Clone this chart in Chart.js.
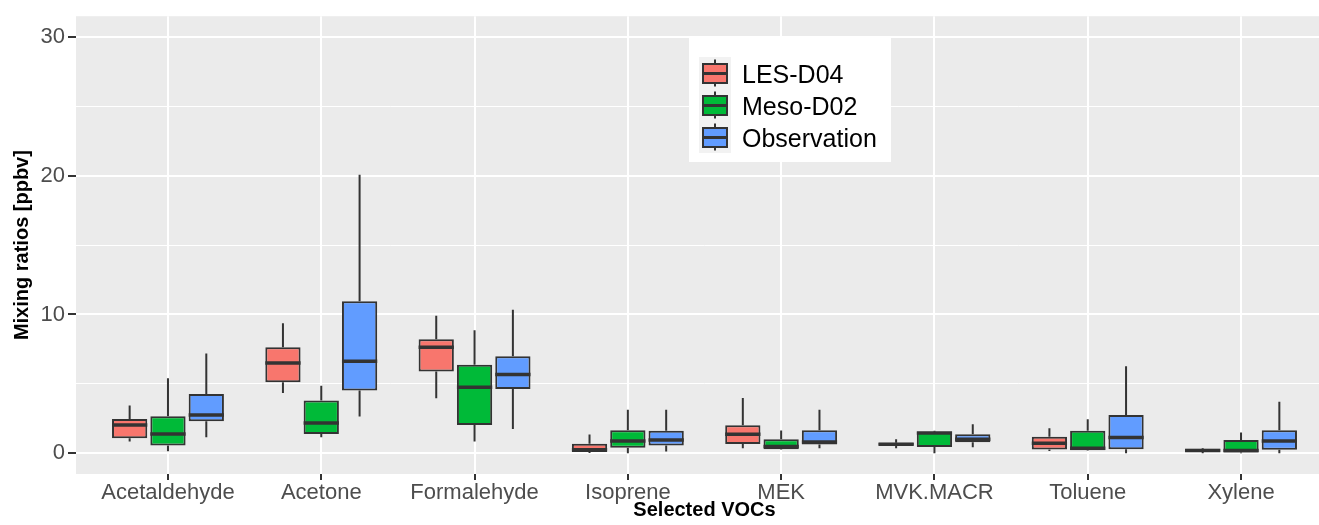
<!DOCTYPE html>
<html>
<head>
<meta charset="utf-8">
<script src="https://cdn.jsdelivr.net/npm/chart.js@4.4.1/dist/chart.umd.min.js"></script>
<style>
  html, body { margin: 0; padding: 0; background: #fff; overflow: hidden; }
  #wrap { width: 1333px; height: 525px; }
</style>
</head>
<body>
<div id="wrap"><canvas id="boxchart" width="1333" height="525"></canvas></div>
<script>
const categories = ["Acetaldehyde", "Acetone", "Formalehyde", "Isoprene", "MEK", "MVK.MACR", "Toluene", "Xylene"];

// each entry: [lower whisker, Q1, median, Q3, upper whisker]
const lesD04 = [
    [0.84, 1.08, 2.04, 2.47, 3.43],
    [4.34, 5.11, 6.50, 7.63, 9.37],
    [3.96, 5.88, 7.63, 8.22, 9.90],
    [0.02, 0.08, 0.25, 0.68, 1.35],
    [0.36, 0.66, 1.36, 2.02, 3.97],
    [0.36, 0.55, 0.65, 0.75, 1.00],
    [0.16, 0.26, 0.71, 1.19, 1.79],
    [0.00, 0.08, 0.20, 0.32, 0.38]
];
const mesoD02 = [
    [0.14, 0.55, 1.39, 2.66, 5.40],
    [1.15, 1.39, 2.18, 3.79, 4.87],
    [0.84, 2.04, 4.75, 6.38, 8.87],
    [0.00, 0.40, 0.88, 1.66, 3.14],
    [0.25, 0.29, 0.48, 1.00, 1.64],
    [0.00, 0.45, 1.45, 1.55, 1.61],
    [0.18, 0.21, 0.36, 1.61, 2.45],
    [0.00, 0.05, 0.20, 0.95, 1.50]
];
const observation = [
    [1.15, 2.30, 2.76, 4.27, 7.19],
    [2.64, 4.51, 6.62, 10.96, 20.07],
    [1.75, 4.63, 5.68, 6.98, 10.34],
    [0.12, 0.55, 0.95, 1.61, 3.14],
    [0.36, 0.62, 0.80, 1.66, 3.14],
    [0.43, 0.79, 1.00, 1.36, 2.09],
    [0.00, 0.29, 1.14, 2.76, 6.26],
    [0.00, 0.24, 0.88, 1.66, 3.70]
];

const seriesNames = ["LES-D04", "Meso-D02", "Observation"];
const seriesColors = ["#F8766D", "#00BA38", "#619CFF"];
const yTicks = [0, 5, 10, 15, 20, 25, 30];

const fontFamily = '"Liberation Sans", Arial, Helvetica, sans-serif';
const lineColor = "#333333";

function makeDataset(name, color, stats) {
    return {
        label: name,
        data: stats.map((s, i) => ({ x: i, y: [s[1], s[3]] })),
        stats: stats,
        backgroundColor: color,
        borderColor: lineColor,
        borderWidth: 2,
        borderSkipped: false,
        categoryPercentage: 0.75,
        barPercentage: 0.92
    };
}

// grey panel behind everything
const panelBackground = {
    id: "panelBackground",
    beforeDraw(chart) {
        const { ctx, chartArea } = chart;
        ctx.save();
        ctx.fillStyle = "#EBEBEB";
        ctx.fillRect(chartArea.left, chartArea.top, chartArea.width, chartArea.height);
        ctx.restore();
    }
};

// whiskers under the boxes, medians on top
const boxParts = {
    id: "boxParts",
    beforeDatasetsDraw(chart) {
        const ctx = chart.ctx;
        const y = chart.scales.y;
        ctx.save();
        ctx.strokeStyle = lineColor;
        ctx.lineWidth = 2;
        chart.data.datasets.forEach((ds, d) => {
            chart.getDatasetMeta(d).data.forEach((bar, i) => {
                const s = ds.stats[i];
                ctx.beginPath();
                ctx.moveTo(bar.x, y.getPixelForValue(s[0]));
                ctx.lineTo(bar.x, y.getPixelForValue(s[1]));
                ctx.moveTo(bar.x, y.getPixelForValue(s[3]));
                ctx.lineTo(bar.x, y.getPixelForValue(s[4]));
                ctx.stroke();
            });
        });
        ctx.restore();
    },
    afterDatasetsDraw(chart) {
        const ctx = chart.ctx;
        const y = chart.scales.y;
        ctx.save();
        ctx.strokeStyle = lineColor;
        ctx.lineWidth = 3.5;
        chart.data.datasets.forEach((ds, d) => {
            chart.getDatasetMeta(d).data.forEach((bar, i) => {
                const py = y.getPixelForValue(ds.stats[i][2]);
                ctx.beginPath();
                ctx.moveTo(bar.x - bar.width / 2, py);
                ctx.lineTo(bar.x + bar.width / 2, py);
                ctx.stroke();
            });
        });
        ctx.restore();
    }
};

// legend box placed inside the panel like the original
const boxLegend = {
    id: "boxLegend",
    afterDraw(chart) {
        const ctx = chart.ctx;
        ctx.save();
        ctx.fillStyle = "#FFFFFF";
        ctx.fillRect(689, 36, 202, 126);
        seriesNames.forEach((name, i) => {
            const top = 57 + i * 32;
            ctx.fillStyle = "#F2F2F2";
            ctx.fillRect(699, top, 32, 32);
            ctx.strokeStyle = lineColor;
            ctx.lineWidth = 2;
            ctx.beginPath();
            ctx.moveTo(715, top + 2.5);
            ctx.lineTo(715, top + 29.5);
            ctx.stroke();
            ctx.fillStyle = seriesColors[i];
            ctx.fillRect(703, top + 7, 24, 19);
            ctx.strokeRect(703, top + 7, 24, 19);
            ctx.lineWidth = 3;
            ctx.beginPath();
            ctx.moveTo(703, top + 16.5);
            ctx.lineTo(727, top + 16.5);
            ctx.stroke();
            ctx.fillStyle = "#000000";
            ctx.font = "25px " + fontFamily;
            ctx.textBaseline = "alphabetic";
            ctx.fillText(name, 742, top + 25.5);
        });
        ctx.restore();
    }
};

const ctx = document.getElementById("boxchart").getContext("2d");

window.boxChart = new Chart(ctx, {
    type: "bar",
    data: {
        datasets: [
            makeDataset(seriesNames[0], seriesColors[0], lesD04),
            makeDataset(seriesNames[1], seriesColors[1], mesoD02),
            makeDataset(seriesNames[2], seriesColors[2], observation)
        ]
    },
    options: {
        responsive: false,
        devicePixelRatio: 1,
        animation: false,
        layout: { padding: { top: 13, left: 0, right: 0, bottom: 0 } },
        plugins: {
            legend: { display: false },
            tooltip: { enabled: false }
        },
        scales: {
            x: {
                type: "linear",
                min: -0.6,
                max: 7.6,
                offset: false,
                afterBuildTicks: scale => {
                    scale.ticks = categories.map((c, i) => ({ value: i }));
                },
                afterFit: scale => { scale.height = 51; },
                ticks: {
                    callback: v => categories[v],
                    color: "#4D4D4D",
                    font: { family: fontFamily, size: 22 },
                    padding: 0,
                    maxRotation: 0,
                    autoSkip: false
                },
                grid: {
                    offset: false,
                    color: "#FFFFFF",
                    lineWidth: 2,
                    tickColor: lineColor,
                    tickLength: 6,
                    tickWidth: 2
                },
                border: { display: false },
                title: {
                    display: true,
                    text: "Selected VOCs",
                    color: "#000000",
                    font: { family: fontFamily, size: 20, weight: "bold" },
                    padding: { top: 0, bottom: 3 }
                }
            },
            y: {
                min: -1.5,
                max: 31.5,
                afterBuildTicks: scale => {
                    scale.ticks = yTicks.map(v => ({ value: v }));
                },
                afterFit: scale => { scale.width = 76; },
                ticks: {
                    callback: v => (v % 10 === 0 ? String(v) : ""),
                    color: "#4D4D4D",
                    font: { family: fontFamily, size: 22 },
                    padding: 3
                },
                grid: {
                    color: "#FFFFFF",
                    lineWidth: c => (c.tick && c.tick.value % 10 === 0 ? 2 : 1),
                    tickColor: c => (c.tick && c.tick.value % 10 === 0 ? lineColor : "rgba(0,0,0,0)"),
                    tickLength: 8,
                    tickWidth: 2
                },
                border: { display: false },
                title: {
                    display: true,
                    text: "Mixing ratios [ppbv]",
                    color: "#000000",
                    font: { family: fontFamily, size: 20, weight: "bold" },
                    padding: { top: 10, bottom: 0 }
                }
            }
        }
    },
    plugins: [panelBackground, boxParts, boxLegend]
});
</script>
</body>
</html>
